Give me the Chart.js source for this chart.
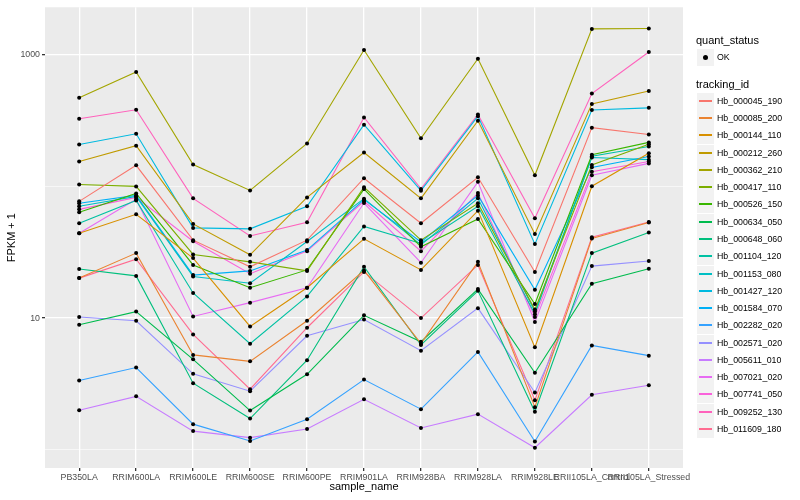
<!DOCTYPE html>
<html><head><meta charset="utf-8">
<script src="https://cdn.jsdelivr.net/npm/chart.js@4.4.0/dist/chart.umd.min.js"></script>
<style>
html,body{margin:0;padding:0;background:#fff;}
#wrap{position:relative;width:800px;height:500px;font-family:"Liberation Sans",Arial,sans-serif;overflow:hidden;}
#c{position:absolute;left:0;top:0;}
.lt{position:absolute;font-size:11px;height:14px;line-height:14px;color:#000;white-space:nowrap;}
.key{position:absolute;width:17px;height:17px;background:#F2F2F2;}
.kl{position:absolute;left:2px;width:13px;top:7px;height:2px;}
.kd{position:absolute;left:6px;top:6px;width:5px;height:5px;border-radius:50%;background:#000;}
.lab{position:absolute;font-size:8.8px;height:12px;line-height:12px;color:#000;white-space:nowrap;}
</style></head><body>
<div id="wrap"><canvas id="c" width="800" height="500"></canvas><div id="legend"></div></div>
<script>
// ---- data ----
const categories = ["PB350LA","RRIM600LA","RRIM600LE","RRIM600SE","RRIM600PE","RRIM901LA","RRIM928BA","RRIM928LA","RRIM928LE","RRII105LA_Control","RRII105LA_Stressed"];
const trackingIds = ["Hb_000045_190","Hb_000085_200","Hb_000144_110","Hb_000212_260","Hb_000362_210","Hb_000417_110","Hb_000526_150","Hb_000634_050","Hb_000648_060","Hb_001104_120","Hb_001153_080","Hb_001427_120","Hb_001584_070","Hb_002282_020","Hb_002571_020","Hb_005611_010","Hb_007021_020","Hb_007741_050","Hb_009252_130","Hb_011609_180"];
const quantStatus = ["OK"];
const yMajorTicks = [10, 1000];
const yMinorTicks = [1, 100];

const Hb_000045_190 = [76.8, 144, 39.0, 24.5, 39.0, 115, 52.4, 117, 22.4, 278, 247];
const Hb_000085_200 = [20.1, 31.1, 5.26, 4.70, 9.55, 23.0, 6.40, 26.7, 2.11, 40.2, 53.0];
const Hb_000144_110 = [44.0, 61.3, 28.5, 8.64, 17.0, 39.9, 23.2, 65.3, 6.00, 100, 178];
const Hb_000212_260 = [154, 203, 51.8, 30.2, 82.3, 180, 80.9, 314, 43.5, 421, 528];
const Hb_000362_210 = [468, 735, 146, 93, 211, 1078, 231, 926, 121, 1560, 1570];
const Hb_000417_110 = [103, 99.7, 30.4, 26.7, 22.8, 98.4, 39.0, 74.2, 11.6, 145, 208];
const Hb_000526_150 = [63.5, 88.2, 25.3, 17.0, 23.2, 95.1, 34.7, 56.4, 12.8, 173, 215];
const Hb_000634_050 = [8.90, 11.2, 4.87, 1.99, 3.75, 10.5, 6.62, 16.6, 3.85, 18.2, 23.7];
const Hb_000648_060 = [23.6, 20.9, 3.21, 1.73, 4.79, 24.5, 6.25, 16.1, 1.95, 31.1, 44.6];
const Hb_001104_120 = [52.4, 78.1, 15.5, 6.40, 14.6, 49.5, 36.8, 70.4, 10.7, 169, 200];
const Hb_001153_080 = [70.4, 83.8, 20.7, 18.4, 38.1, 80.5, 35.9, 80.9, 11.2, 165, 159];
const Hb_001427_120 = [207, 250, 48.3, 47.5, 70.4, 293, 92.5, 340, 36.4, 378, 393];
const Hb_001584_070 = [74.2, 85.2, 21.2, 22.8, 32.8, 79.1, 37.8, 85.2, 16.4, 139, 168];
const Hb_002282_020 = [3.36, 4.22, 1.57, 1.17, 1.71, 3.42, 2.04, 5.54, 1.16, 6.21, 5.19];
const Hb_002571_020 = [10.2, 9.55, 3.78, 2.79, 7.35, 9.76, 5.66, 11.9, 2.73, 24.8, 27.1];
const Hb_005611_010 = [2.00, 2.55, 1.39, 1.24, 1.44, 2.42, 1.47, 1.87, 1.04, 2.62, 3.10];
const Hb_007021_020 = [44.0, 79.5, 10.3, 13.1, 17.0, 74.6, 26.3, 108, 9.33, 121, 149];
const Hb_007741_050 = [66.8, 82.3, 38.3, 21.7, 32.2, 76.8, 32.2, 88.7, 10.2, 129, 154];
const Hb_009252_130 = [325, 380, 80.9, 42.0, 53.3, 332, 95.4, 350, 57.1, 504, 1041];
const Hb_011609_180 = [20.1, 28.0, 7.52, 2.89, 8.45, 22.4, 10.0, 25.3, 2.38, 41.1, 53.6];

const seriesValues = [Hb_000045_190,Hb_000085_200,Hb_000144_110,Hb_000212_260,Hb_000362_210,Hb_000417_110,Hb_000526_150,Hb_000634_050,Hb_000648_060,Hb_001104_120,Hb_001153_080,Hb_001427_120,Hb_001584_070,Hb_002282_020,Hb_002571_020,Hb_005611_010,Hb_007021_020,Hb_007741_050,Hb_009252_130,Hb_011609_180];
const seriesColors = ["#F8766D","#EA8331","#D89000","#C09B00","#A3A500","#7CAE00","#39B600","#00BB4E","#00BF7D","#00C1A3","#00BFC4","#00BAE0","#00B0F6","#35A2FF","#9590FF","#C77CFF","#E76BF3","#FA62DB","#FF62BC","#FF6C91"];

// ---- plugins ----
const panelBg = {
  id: 'panelBg',
  beforeDraw(chart) {
    const {ctx, chartArea: a} = chart;
    ctx.save(); ctx.fillStyle = '#EBEBEB';
    ctx.fillRect(a.left, a.top, a.right - a.left, a.bottom - a.top);
    ctx.restore();
  }
};
const pointsOnTop = {
  id: 'pointsOnTop',
  afterDatasetsDraw(chart) {
    const ctx = chart.ctx;
    ctx.save(); ctx.fillStyle = '#000';
    chart.data.datasets.forEach((d, i) => {
      chart.getDatasetMeta(i).data.forEach(el => {
        ctx.beginPath(); ctx.arc(el.x, el.y, 2, 0, Math.PI * 2); ctx.fill();
      });
    });
    ctx.restore();
  }
};

const isMajor = v => yMajorTicks.includes(v);
const txtFont = {family: '"Liberation Sans", Arial, sans-serif', size: 8.8};

new Chart(document.getElementById('c'), {
  type: 'line',
  data: {
    datasets: trackingIds.map((id, i) => ({
      label: id,
      data: seriesValues[i].map((v, j) => ({x: j, y: v})),
      borderColor: seriesColors[i],
      backgroundColor: seriesColors[i],
      borderWidth: 1.1,
      pointRadius: 0,
      tension: 0,
      fill: false
    }))
  },
  options: {
    responsive: false,
    animation: false,
    layout: {padding: {left: 0, right: 117, top: 5, bottom: 0}},
    plugins: {legend: {display: false}, tooltip: {enabled: false}},
    scales: {
      x: {
        type: 'linear', min: -0.6, max: categories.length - 0.4, bounds: 'data',
        afterBuildTicks: s => { s.ticks = categories.map((_, i) => ({value: i})); },
        afterFit: s => { s.height = 32; },
        ticks: {autoSkip: false, maxRotation: 0, minRotation: 0, padding: 1, color: '#4D4D4D', font: txtFont,
                callback: v => categories[v]},
        grid: {color: '#FFFFFF', lineWidth: 1.3, tickColor: '#333333', tickLength: 3},
        border: {display: false},
        title: {display: true, text: 'sample_name', color: '#000', font: {family: txtFont.family, size: 11}, padding: {top: 0, bottom: 6}}
      },
      y: {
        type: 'logarithmic', min: 0.73, max: 2275, bounds: 'data',
        afterBuildTicks: s => { s.ticks = yMinorTicks.concat(yMajorTicks).sort((a, b) => a - b).map(v => ({value: v})); },
        afterFit: s => { s.width = 45; },
        ticks: {padding: 2, color: '#4D4D4D', font: txtFont, callback: v => isMajor(v) ? String(v) : ''},
        grid: {
          color: '#FFFFFF',
          lineWidth: c => (c.tick && isMajor(c.tick.value)) ? 1.3 : 0.6,
          tickColor: c => (c.tick && isMajor(c.tick.value)) ? '#333333' : 'rgba(0,0,0,0)',
          tickLength: 3
        },
        border: {display: false},
        title: {display: true, text: 'FPKM + 1', color: '#000', font: {family: txtFont.family, size: 11}, padding: {top: 5, bottom: 0}}
      }
    }
  },
  plugins: [panelBg, pointsOnTop]
});

// ---- legend (HTML, ggplot style) ----
(function () {
  const L = document.getElementById('legend');
  let h = '';
  h += '<div class="lt" style="left:696px;top:33px">quant_status</div>';
  quantStatus.forEach((q, i) => {
    const cy = Math.round(57 + i * 17.28);
    h += '<div class="key" style="left:697px;top:' + (cy - 8) + 'px"><div class="kd"></div></div>';
    h += '<div class="lab" style="left:717px;top:' + (cy - 6) + 'px">' + q + '</div>';
  });
  h += '<div class="lt" style="left:696px;top:77px">tracking_id</div>';
  trackingIds.forEach((id, i) => {
    const cy = Math.round(100.7 + i * 17.28);
    h += '<div class="key" style="left:697px;top:' + (cy - 8) + 'px"><div class="kl" style="background:' + seriesColors[i] + '"></div></div>';
    h += '<div class="lab" style="left:717px;top:' + (cy - 6) + 'px">' + id + '</div>';
  });
  L.innerHTML = h;
})();
</script>
</body></html>
